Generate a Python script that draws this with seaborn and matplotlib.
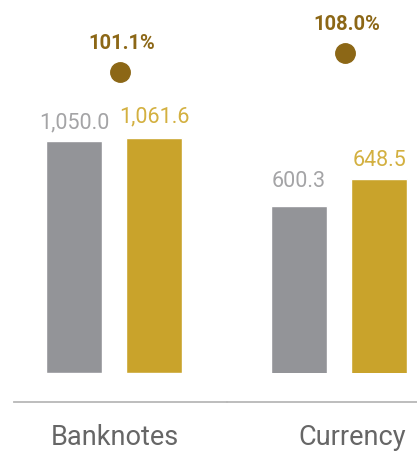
import matplotlib
matplotlib.use("Agg")
import matplotlib.pyplot as plt
import matplotlib.transforms as mtransforms
import seaborn as sns
import pandas as pd

# Values (millions) for the two periods and the resulting ratio
items = ["Banknotes", "Currency"]
series = ["Previous", "Current"]
previous_values = [1050.0, 600.3]
current_values = [1061.6, 648.5]
ratio_pct = [101.1, 108.0]

GRAY = "#939498"
GOLD = "#c9a32b"
GRAY_TXT = "#a4a4a6"
GOLD_TXT = "#d3b040"
DARK_GOLD = "#8c6716"
AXIS_GRAY = "#b8b8b8"
LABEL_GRAY = "#666666"

sns.set_theme(style="white")
plt.rcParams["font.family"] = ["Roboto", "DejaVu Sans"]

df = pd.DataFrame({
    "item": [it for it in items for _ in series],
    "series": series * len(items),
    "value": [v for pair in zip(previous_values, current_values) for v in pair],
})

W, H, DPI = 417, 452, 100
fig = plt.figure(figsize=(W / DPI, H / DPI), dpi=DPI)

bottom = (H - 374) / H
height = 374 / H
panels = [
    # left px, right px, x-limits, y-limits, label paddings (px) per series
    dict(left=14, right=227, xlim=(-0.5, 0.565), ylim=(0, 1690.5), pads=(8, 12), tick_dx=1),
    dict(left=227, right=417, xlim=(-0.56, 0.39), ylim=(298.3, 973.5), pads=(15, 9), tick_dx=13),
]

pct_lim = (-9.5, 127.7)

for i, (item, cfg) in enumerate(zip(items, panels)):
    ax = fig.add_axes([cfg["left"] / W, bottom, (cfg["right"] - cfg["left"]) / W, height])
    sub = df[df["item"] == item]
    sns.barplot(data=sub, x="item", y="value", hue="series", hue_order=series,
                palette=[GRAY, GOLD], width=0.8, gap=0.3, legend=False,
                saturation=1, ax=ax)
    ax.set_xlim(*cfg["xlim"])
    ax.set_ylim(*cfg["ylim"])
    ax.set_xlabel("")
    ax.set_ylabel("")
    ax.set_yticks([])

    for cont, col, pad in zip(ax.containers, [GRAY_TXT, GOLD_TXT], cfg["pads"]):
        ax.bar_label(cont, labels=[f"{b.get_height():,.1f}" for b in cont],
                     padding=pad * 0.72, color=col, fontsize=15.5, fontweight="normal")

    for side in ("left", "right", "top"):
        ax.spines[side].set_visible(False)
    ax.spines["bottom"].set_position(("outward", 28.7 * 0.72))
    ax.spines["bottom"].set_color(AXIS_GRAY)
    ax.spines["bottom"].set_linewidth(1.3)
    ax.tick_params(axis="x", length=0, pad=15, labelsize=19.5, labelcolor=LABEL_GRAY)
    for lab in ax.get_xticklabels():
        lab.set_fontweight("normal")
        lab.set_transform(lab.get_transform() + mtransforms.ScaledTranslation(
            cfg["tick_dx"] / DPI, 0, fig.dpi_scale_trans))

    # ratio marker on its own percentage scale
    tw = ax.twinx()
    tw.set_ylim(*pct_lim)
    tw.axis("off")
    shift = mtransforms.ScaledTranslation(5.5 / DPI, 0, fig.dpi_scale_trans)
    tw.plot([0], [ratio_pct[i]], "o", color=DARK_GOLD, markersize=14,
            transform=tw.transData + shift, clip_on=False)
    tw.annotate(f"{ratio_pct[i]:.1f}%", xy=(0, ratio_pct[i]), xycoords="data",
                xytext=(7.5 * 0.72, 23.5 * 0.72), textcoords="offset points",
                ha="center", va="baseline", color=DARK_GOLD,
                fontsize=14.5, fontweight="bold", annotation_clip=False)

fig.savefig("out.png", dpi=DPI)
